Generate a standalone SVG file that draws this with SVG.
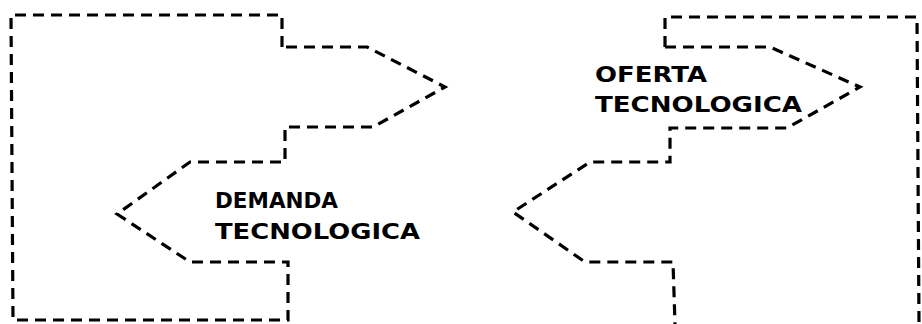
<svg xmlns="http://www.w3.org/2000/svg" width="922" height="324" viewBox="0 0 922 324">
<style>
.sh{fill:none;stroke:#000;stroke-width:3.2;stroke-dasharray:11 7;stroke-linejoin:miter;stroke-linecap:butt}
.t{font-family:"DejaVu Sans","Liberation Sans",sans-serif;font-weight:bold;font-size:22px;fill:#000}
</style>
<rect width="922" height="324" fill="#fff"/>
<g id="demanda">
<path class="sh" d="M282,47 L282,15 L11,15 L13,320 L288,320 L288,262 L190,262 L117,214 L190,162 L285,162 L285,127 L373,127 L445,87 L367,47 L282,47"/>
<text class="t" x="215" y="208" textLength="123" lengthAdjust="spacingAndGlyphs">DEMANDA</text>
<text class="t" x="215" y="239" textLength="205" lengthAdjust="spacingAndGlyphs">TECNOLOGICA</text>
</g>
<g id="oferta">
<path class="sh" d="M665,47 L665,17 L917,17 L919,324"/>
<path class="sh" d="M665,47 L770,47 L860,87 L787,128 L670,128 L670,162 L590,162 L513,212 L585,262 L673,262 L675,324"/>
<text class="t" x="595" y="82" textLength="112" lengthAdjust="spacingAndGlyphs">OFERTA</text>
<text class="t" x="595" y="112" textLength="207" lengthAdjust="spacingAndGlyphs">TECNOLOGICA</text>
</g>
<g id="connectors"></g>
</svg>
